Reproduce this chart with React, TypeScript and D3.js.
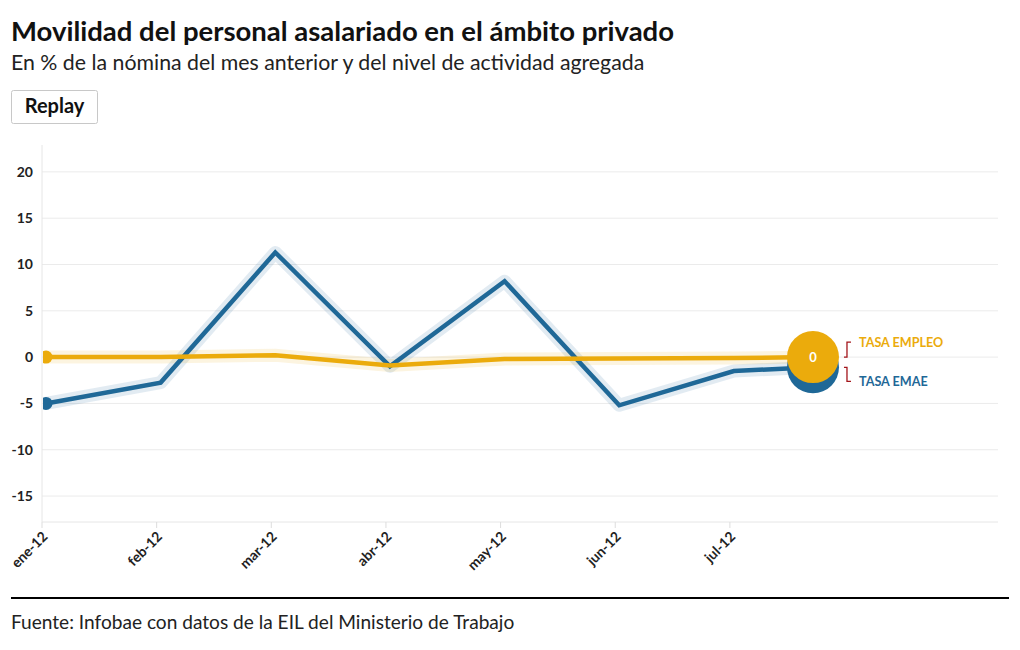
import React from "react";
import * as d3 from "d3";

const TITLE = "Movilidad del personal asalariado en el ámbito privado";
const SUBTITLE = "En % de la nómina del mes anterior y del nivel de actividad agregada";
const SOURCE = "Fuente: Infobae con datos de la EIL del Ministerio de Trabajo";

const months = ["ene-12", "feb-12", "mar-12", "abr-12", "may-12", "jun-12", "jul-12"];
const emae = [-5.0, -2.75, 11.3, -1.0, 8.2, -5.2, -1.5];
const empleo = [0, 0, 0.2, -0.9, -0.2, -0.15, -0.1];
// animated head (position between jul-12 and ago-12 as captured)
const headIndex = 6.69;
const headEmae = -1.1;
const headEmpleo = 0;
const yTicks = [-15, -10, -5, 0, 5, 10, 15, 20];

const BLUE = "#1f6897";
const YELLOW = "#ebab0c";
const FONT = "'Source Sans Pro', Lato, 'Open Sans', sans-serif";

export default function App() {
  const left = 42, right = 998, top = 145, bottom = 522;
  const x = d3.scaleLinear().domain([0, 8.33]).range([46, 1001]);
  const y = d3.scaleLinear().domain([-17.8, 22.9]).range([bottom, top]);

  const seriesPts = (vals: number[], head: number) =>
    [...vals.map((v, i) => [i, v] as [number, number]), [headIndex, head] as [number, number]];
  const line = d3.line<[number, number]>().x(d => x(d[0])).y(d => y(d[1]));

  const series = [
    { name: "TASA EMAE", color: BLUE, vals: emae, head: headEmae, labelDy: 14 },
    { name: "TASA EMPLEO", color: YELLOW, vals: empleo, head: headEmpleo, labelDy: -15 },
  ];

  return (
    <svg width={1020} height={650} style={{ position: "absolute", left: 0, top: 0, background: "#fff" }} fontFamily={FONT}>
      <defs>
        <clipPath id="plotClip">
          <rect x={left + 1} y={top - 30} width={right - left + 60} height={bottom - top + 60} />
        </clipPath>
      </defs>
      <text x={11} y={41} fontSize={27.5} fontWeight={700} fill="#111">{TITLE}</text>
      <text x={11} y={70} fontSize={21.3} fill="#222">{SUBTITLE}</text>

      <rect x={11.5} y={90.5} width={86} height={33} rx={2} fill="#fff" stroke="#c8c8c8" />
      <text x={54.5} y={113} fontSize={20} fontWeight={700} textAnchor="middle" fill="#111">Replay</text>

      {/* grid */}
      {yTicks.map(t => (
        <g key={t}>
          <line x1={left} x2={right} y1={y(t)} y2={y(t)} stroke="#ebebeb" strokeWidth={1} />
          <text x={33} y={y(t)} dy="0.35em" textAnchor="end" fontSize={14} fontWeight={700} fill="#222">{t}</text>
        </g>
      ))}
      <line x1={left} x2={left} y1={top} y2={bottom} stroke="#e6e6e6" />
      <line x1={left} x2={right} y1={bottom} y2={bottom} stroke="#e6e6e6" />

      {months.map((m, i) => (
        <g key={m} transform={`translate(${x(i) - 4},${bottom})`}>
          <line y1={0} y2={6} stroke="#ddd" />
          <text transform="translate(3,12) rotate(-45)" textAnchor="end" fontSize={14} fontWeight={700} fill="#222" dy="0.35em">{m}</text>
        </g>
      ))}

      <g clipPath="url(#plotClip)">
        {series.map(s => (
          <g key={s.name}>
            <path d={line(seriesPts(s.vals, s.head)) || ""} fill="none" stroke={s.color} strokeOpacity={0.13} strokeWidth={13} strokeLinejoin="round" />
          </g>
        ))}
        {series.map(s => (
          <g key={s.name}>
            <path d={line(seriesPts(s.vals, s.head)) || ""} fill="none" stroke={s.color} strokeWidth={4.5} strokeLinejoin="miter" />
            <circle cx={x(0)} cy={y(s.vals[0])} r={6.5} fill={s.color} />
          </g>
        ))}
        {series.map(s => (
          <circle key={s.name} cx={x(headIndex)} cy={y(s.head)} r={26} fill={s.color} />
        ))}
        <text x={x(headIndex)} y={y(headEmpleo)} dy="0.35em" textAnchor="middle" fontSize={13} fontWeight={700} fill="#fff">
          {d3.format(".0f")(headEmpleo)}
        </text>
      </g>

      {series.map(s => {
        const vy = y(s.head);
        const ly = vy + s.labelDy;
        const hx = x(headIndex) + 31;
        return (
          <g key={s.name}>
            <path d={`M${hx},${vy} H${hx + 3} V${ly} H${hx + 7}`} fill="none" stroke="#a3151b" strokeWidth={1.3} />
            <text x={hx + 15} y={ly} dy="0.35em" fontSize={12.6} fontWeight={700} fill={s.color}>{s.name}</text>
          </g>
        );
      })}

      <line x1={11} x2={1009} y1={598} y2={598} stroke="#000" strokeWidth={2} />
      <text x={11} y={629} fontSize={19.1} fill="#222">{SOURCE}</text>
    </svg>
  );
}
